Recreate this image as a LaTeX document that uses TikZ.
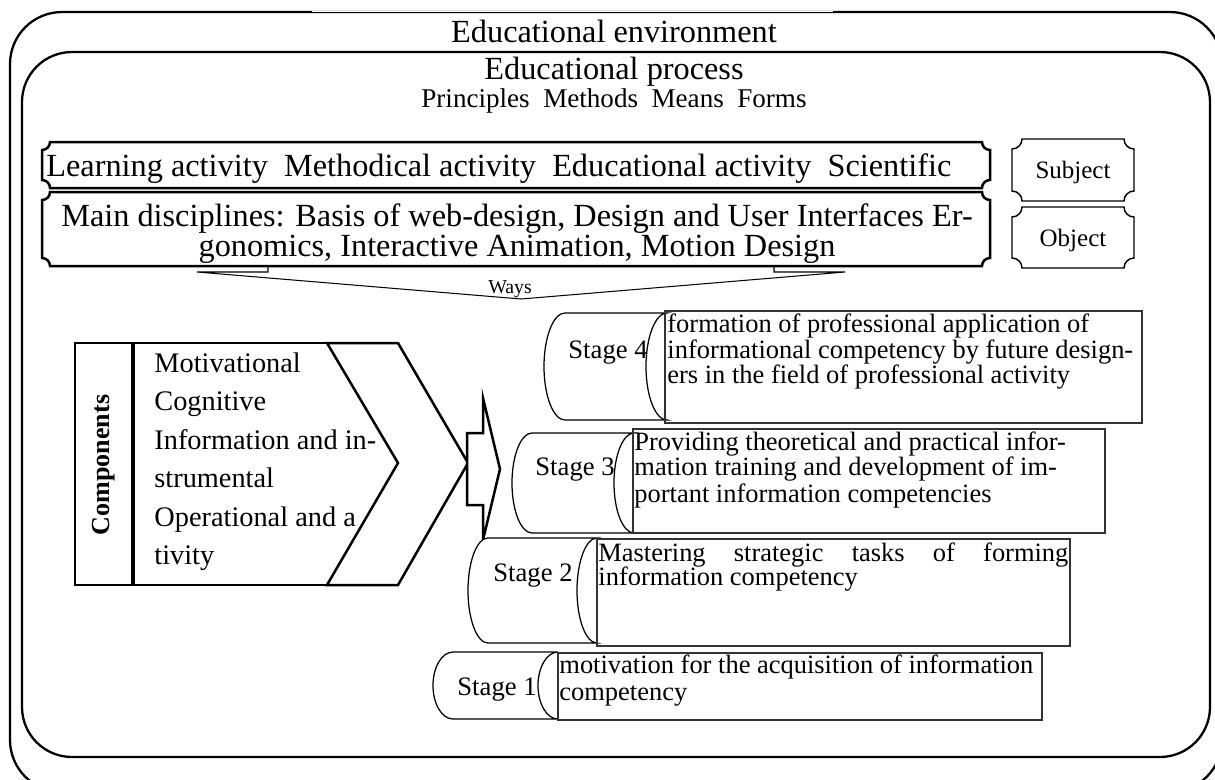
\documentclass[tikz,border=0pt]{standalone}
\usepackage{fontspec}
\setmainfont{Liberation Serif}
% plaque: rectangle with concave quarter-circle corners; [style]{x1}{y1}{x2}{y2}{r}
\newcommand\plaqueshape[6][]{%
  \draw[#1] (#2+#6,#3) -- (#4-#6,#3)
    .. controls (#4-#6,#3+0.552*#6) and (#4-0.552*#6,#3+#6) .. (#4,#3+#6)
    -- (#4,#5-#6)
    .. controls (#4-0.552*#6,#5-#6) and (#4-#6,#5-0.552*#6) .. (#4-#6,#5)
    -- (#2+#6,#5)
    .. controls (#2+#6,#5-0.552*#6) and (#2+0.552*#6,#5-#6) .. (#2,#5-#6)
    -- (#2,#3+#6)
    .. controls (#2+0.552*#6,#3+#6) and (#2+#6,#3+0.552*#6) .. cycle;}
% horizontal cylinder: {xl}{xr}{yt}{yb}{rx}
\newcommand\stagecan[5]{%
  \draw[canline] (#1,#3) -- (#2,#3)
    .. controls (#2-0.552*#5,#3) and (#2-#5,{(#3+#4)/2-0.276*(#4-#3)}) .. (#2-#5,{(#3+#4)/2})
    .. controls (#2-#5,{(#3+#4)/2+0.276*(#4-#3)}) and (#2-0.552*#5,#4) .. (#2,#4)
    -- (#1,#4)
    .. controls (#1-0.552*#5,#4) and (#1-#5,{(#3+#4)/2+0.276*(#4-#3)}) .. (#1-#5,{(#3+#4)/2})
    .. controls (#1-#5,{(#3+#4)/2-0.276*(#4-#3)}) and (#1-0.552*#5,#3) .. cycle;}
\begin{document}
\begin{tikzpicture}[x=0.48pt,y=-0.48pt,
  frame/.style={line width=1.1pt},
  thickplaque/.style={line width=1.2pt, fill=white},
  thinplaque/.style={line width=0.7pt, fill=white},
  canline/.style={line width=0.6pt, fill=white},
  stagebox/.style={line width=0.6pt, draw=black!80},
  txt/.style={inner sep=0pt, anchor=base west},
  ctxt/.style={inner sep=0pt, anchor=base},
  big/.style={font=\fontsize{15.5}{18}\selectfont},
  mid/.style={font=\fontsize{13.6}{16}\selectfont},
  norm/.style={font=\fontsize{12}{14}\selectfont},
  boxtext/.style={font=\fontsize{12.7}{15}\selectfont},
  stagelabel/.style={font=\fontsize{12.8}{15}\selectfont}]
\useasboundingbox (0,0) rectangle (1215,780);
\clip (0,0) rectangle (1215,780);

% outer and inner frames
\draw[frame, rounded corners=25pt] (10,12) rectangle (1222,792);
\draw[white, line width=1.4pt] (312,12) -- (833,12);
\draw[line width=0.4pt] (312,12) -- (833,12);
\draw[frame, rounded corners=24pt] (22,52) rectangle (1210,757);

\node[ctxt, big] (env) at (614,42) {Educational environment};
\node[ctxt, big] (proc) at (614,79) {Educational process};
\node[ctxt, font=\fontsize{13}{15}\selectfont] (pmmf) at (614,107) {Principles\ \ Methods\ \ Means\ \ Forms};

% "Ways" arrow below the discipline box
\draw[line width=0.5pt] (268,262) -- (268,272) -- (197,272) -- (521,299) -- (845,272) -- (774,272) -- (774,262);
\node[ctxt, font=\fontsize{9.5}{11}\selectfont] (ways) at (510,293) {Ways};

% activity and discipline plaques
\plaqueshape[thickplaque]{42}{142}{990}{188}{8}
\node[txt, big] (act) at (46,176) {Learning activity\ \ Methodical activity\ \ Educational activity\ \ Scientific};
\plaqueshape[thickplaque]{42}{192}{990}{266}{8}
\node[ctxt, big] (disc1) at (517,226) {Main disciplines: Basis of web-design, Design and User Interfaces Er-};
\node[ctxt, big] (disc2) at (517,256) {gonomics, Interactive Animation, Motion Design};

% subject / object
\plaqueshape[thinplaque]{1012}{139}{1134}{201}{10}
\node[ctxt, norm] (subj) at (1073,178) {Subject};
\plaqueshape[thinplaque]{1012}{207}{1134}{268}{10}
\node[ctxt, norm] (obj) at (1073,246) {Object};

% components block
\draw[line width=1pt] (398,343) -- (75,343) -- (75,585) -- (398,585);
\node[rotate=90, font=\bfseries\fontsize{12.5}{15}\selectfont] (comp) at (104,465) {Components};
\node[txt, mid] (c1) at (154,372) {Motivational};
\node[txt, mid] (c2) at (154,410.5) {Cognitive};
\node[txt, mid] (c3) at (154,449) {Information and in-};
\node[txt, mid] (c4) at (154,487.5) {strumental};
\node[txt, mid] (c5) at (154,526) {Operational and a};
\node[txt, mid] (c6) at (154,564.5) {tivity};
\draw[line width=2.2pt] (133,343) -- (133,585);
\draw[line width=1.2pt, fill=white] (327,343) -- (398,343) -- (468,463) -- (398,585) -- (327,585) -- (398,463) -- cycle;
\draw[line width=1.2pt, fill=white] (467,433) -- (483,433) -- (483,398) -- (500,469) -- (483,540) -- (483,505) -- (467,505) -- cycle;

% stage 4
\stagecan{565}{667}{313}{420}{21}
\node[txt, stagelabel] (s4) at (568,358) {Stage 4};
\draw[stagebox] (665,311) rectangle (1142,423);
\node[txt, boxtext] (t41) at (667,332) {formation of professional application of};
\node[txt, boxtext] (t42) at (667,358) {informational competency by future design-};
\node[txt, boxtext] (t43) at (667,383) {ers in the field of professional activity};

% stage 3
\stagecan{532}{634}{433}{533}{20}
\node[txt, stagelabel] (s3) at (535,475) {Stage 3};
\draw[stagebox] (633,429) rectangle (1105,533);
\node[txt, boxtext] (t31) at (634,450) {Providing theoretical and practical infor-};
\node[txt, boxtext] (t32) at (634,475) {mation training and development of im-};
\node[txt, boxtext] (t33) at (634,502) {portant information competencies};

% stage 2
\stagecan{488}{597}{538}{643}{20}
\node[txt, stagelabel] (s2) at (493,581) {Stage 2};
\draw[stagebox] (597,539) rectangle (1070,646);
\node[txt, boxtext] (t21) at (598,561) {\hbox to 225.6pt{Mastering\hfill strategic\hfill tasks\hfill of\hfill forming}};
\node[txt, boxtext] (t22) at (598,585) {information competency};

% stage 1
\stagecan{453}{558}{652}{719}{20}
\node[txt, stagelabel] (s1) at (457,695) {Stage 1};
\draw[stagebox] (558,653) rectangle (1042,720);
\node[txt, boxtext] (t11) at (559,673) {motivation for the acquisition of information};
\node[txt, boxtext] (t12) at (559,700) {competency};
\end{tikzpicture}
\end{document}
